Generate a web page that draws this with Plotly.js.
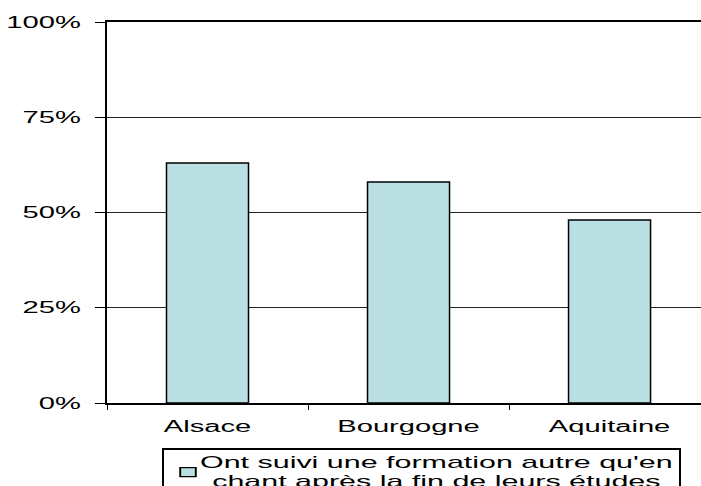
<!DOCTYPE html>
<html>
<head>
<meta charset="utf-8">
<script src="https://cdn.plot.ly/plotly-3.0.1.min.js"></script>
<style>
  html, body { margin: 0; padding: 0; background: #fff; overflow: hidden; }
  #chart { width: 701px; height: 486px; }
</style>
</head>
<body>
<div id="chart"></div>
<script>
const categories = ['Alsace', 'Bourgogne', 'Aquitaine'];
const values = [63, 58, 48];
const seriesName = "Ont suivi une formation autre qu'en<br>chant après la fin de leurs études";
const yTickVals = [0, 25, 50, 75, 100];
const yTickText = ['0%', '25%', '50%', '75%', '100%'];

const FONT = 'Liberation Sans, Arial, sans-serif';
const STRETCH = 1.82;
const LEGEND_STRETCH = 1.79;

const trace = {
  type: 'bar',
  x: categories,
  y: values,
  name: seriesName,
  showlegend: true,
  marker: { color: '#BBE0E3', line: { color: '#000', width: 1.5 } },
  hoverinfo: 'none'
};

const layout = {
  width: 701,
  height: 486,
  margin: { l: 107, r: 0, t: 22, b: 83, pad: 0, autoexpand: false },
  paper_bgcolor: '#fff',
  plot_bgcolor: '#fff',
  bargap: 0.592,
  showlegend: true,
  font: { family: FONT, size: 16, color: '#000' },
  xaxis: {
    type: 'category',
    range: [-0.5, 2.455],
    showline: true,
    linecolor: '#000',
    linewidth: 2,
    mirror: true,
    ticks: 'outside',
    tickson: 'boundaries',
    ticklen: 5,
    tickwidth: 1,
    tickcolor: '#000',
    showgrid: false,
    ticklabelstandoff: 8,
    tickfont: { family: FONT, size: 16, color: '#000' },
    fixedrange: true
  },
  yaxis: {
    range: [0, 100],
    tickvals: yTickVals,
    ticktext: yTickText,
    showline: true,
    linecolor: '#000',
    linewidth: 2,
    ticks: 'outside',
    ticklen: 10,
    tickwidth: 1,
    tickcolor: '#000',
    showgrid: true,
    gridcolor: '#222',
    gridwidth: 1,
    zeroline: false,
    ticklabelstandoff: 11,
    tickfont: { family: FONT, size: 16, color: '#000' },
    fixedrange: true
  },
  legend: {
    orientation: 'h',
    x: 0.0926,
    xanchor: 'left',
    y: -0.117,
    yanchor: 'top',
    bgcolor: 'rgba(255,255,255,0)',
    bordercolor: '#000',
    borderwidth: 2,
    itemwidth: 30,
    entrywidth: 470,
    entrywidthmode: 'pixels',
    font: { family: FONT, size: 17, color: '#000' }
  }
};

function stretchTexts(gd) {
  const sel = gd.querySelectorAll('.xtick text, .ytick text, .legendtext');
  sel.forEach(function (t) {
    if (t.getAttribute('data-stretched')) return;
    t.setAttribute('data-stretched', '1');
    const isLegend = t.classList.contains('legendtext');
    const factor = isLegend ? LEGEND_STRETCH : STRETCH;
    const shift = isLegend ? -4 : 0;
    if (isLegend) {
      const tr = t.getAttribute('transform') || '';
      t.setAttribute('transform', tr + ' translate(0,-6)');
    }
    const lines = t.querySelectorAll('tspan.line');
    if (lines.length) {
      const widths = [];
      lines.forEach(function (l) { widths.push(l.getComputedTextLength()); });
      const maxW = Math.max.apply(null, widths) * factor;
      lines.forEach(function (l, i) {
        const w = widths[i] * factor;
        l.setAttribute('textLength', w);
        l.setAttribute('lengthAdjust', 'spacingAndGlyphs');
        const x0 = parseFloat(l.getAttribute('x') || 0);
        l.setAttribute('x', x0 + shift + (maxW - w) / 2);
        if (isLegend && i > 0) l.setAttribute('dy', '1.12em');
      });
    } else {
      const w = t.getComputedTextLength();
      t.setAttribute('textLength', w * factor);
      t.setAttribute('lengthAdjust', 'spacingAndGlyphs');
      if (shift) {
        const x0 = parseFloat(t.getAttribute('x') || 0);
        t.setAttribute('x', x0 + shift);
      }
    }
  });
  gd.querySelectorAll('.legendpoints path').forEach(function (p) {
    const tr = p.getAttribute('transform') || '';
    p.setAttribute('transform', tr + ' translate(4,-6) scale(1.3,0.75)');
  });
}

Plotly.newPlot('chart', [trace], layout, { staticPlot: true, displayModeBar: false, responsive: false })
  .then(function (gd) { stretchTexts(gd); });
</script>
</body>
</html>
